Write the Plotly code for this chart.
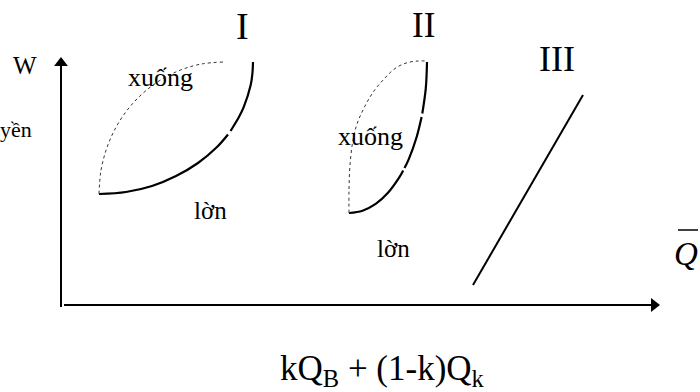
import plotly.graph_objects as go

# Coordinates: origin at the axes corner, x to the right, y upwards (diagram units)
# Curve I: lower solid branch (two pieces, small break) and upper dotted branch
curve1_solid_a_x = [38, 65, 91, 115, 137, 156, 167]
curve1_solid_a_y = [111, 113, 119, 129, 142, 158, 170.5]
curve1_solid_b_x = [169.5, 171.4, 177.5, 182.7, 189.7, 191.4, 192]
curve1_solid_b_y = [174, 177, 187.2, 197.9, 220, 231.5, 243]
curve1_dot_x = [38, 39.9, 45.5, 54.6, 67, 82.3, 100, 119.6, 140.4, 162]
curve1_dot_y = [111, 134, 156.1, 177, 195.9, 212.1, 225.3, 235, 241, 243]

# Curve II: solid branch (three pieces) and dotted branch
curve2_solid_a_x = [288, 301.5, 314.7, 327, 338.1, 342.2]
curve2_solid_a_y = [92, 94.3, 101.1, 112.2, 127.3, 134.5]
curve2_solid_b_x = [343.5, 347.8, 355.5, 360.6]
curve2_solid_b_y = [137, 145.9, 167.5, 188]
curve2_solid_c_x = [361.3, 364.8, 366]
curve2_solid_c_y = [191.5, 216.8, 243]
curve2_dot_x = [288, 288, 289, 292, 296, 302, 309, 316, 324, 332, 340, 349, 357, 365]
curve2_dot_y = [92, 115, 140, 165, 181, 195, 208, 218, 227, 235, 240, 243, 244, 244]

# Line III
line3_x = [412, 522]
line3_y = [20, 210]

# Axes: lines and arrow tips
yaxis_x, yaxis_y = [0, 0], [-2, 240]
xaxis_x, xaxis_y = [3, 592], [0, 0]
ytip = (0, 242)
xtip = (593, 0)

# Labels: (text, x, y, size, xanchor)
labels = [
    ("I", 181, 279, 38, "center"),
    ("II", 362, 280, 35, "center"),
    ("III", 496, 246, 36, "center"),
    ("W", -36, 240, 25, "center"),
    ("yền", -27, 176, 22, "right"),
    ("xuống", 99, 228, 26, "center"),
    ("xuống", 309, 169, 26, "center"),
    ("lờn", 149, 95, 25, "center"),
    ("lờn", 332, 57, 25, "center"),
]
q_label = ("<i>Q</i>", 625, 51, 33)
q_bar_x = [617, 637]
q_bar_y = 75
formula = ("kQ<sub>B</sub> + (1-k)Q<sub>k</sub>", 321, -65, 35)

FONT = "Liberation Serif, Times New Roman, serif"

fig = go.Figure()

def add_line(xs, ys, width=2.2, dash="solid", color="black", shape="spline"):
    fig.add_trace(go.Scatter(x=xs, y=ys, mode="lines",
                             line=dict(color=color, width=width, dash=dash, shape=shape),
                             hoverinfo="skip", showlegend=False))

add_line(curve1_solid_a_x, curve1_solid_a_y)
add_line(curve1_solid_b_x, curve1_solid_b_y)
add_line(curve1_dot_x, curve1_dot_y, width=1, dash="dot", color="#333333")
add_line(curve2_solid_a_x, curve2_solid_a_y)
add_line(curve2_solid_b_x, curve2_solid_b_y)
add_line(curve2_solid_c_x, curve2_solid_c_y)
add_line(curve2_dot_x, curve2_dot_y, width=1, dash="dot", color="#333333")
add_line(line3_x, line3_y, width=2, shape="linear")

# axes
add_line(yaxis_x, yaxis_y, width=2, shape="linear")
add_line(xaxis_x, xaxis_y, width=2, shape="linear")
fig.add_trace(go.Scatter(x=[ytip[0]], y=[ytip[1]], mode="markers",
                         marker=dict(symbol="triangle-up", size=12, color="black"),
                         hoverinfo="skip", showlegend=False))
fig.add_trace(go.Scatter(x=[xtip[0]], y=[xtip[1]], mode="markers",
                         marker=dict(symbol="triangle-right", size=12, color="black"),
                         hoverinfo="skip", showlegend=False))

for text, x, y, size, xa in labels:
    fig.add_annotation(x=x, y=y, text=text, showarrow=False, xanchor=xa, yanchor="middle",
                       font=dict(family=FONT, size=size, color="black"))

fig.add_annotation(x=q_label[1], y=q_label[2], text=q_label[0], showarrow=False,
                   font=dict(family=FONT, size=q_label[3], color="black"))
fig.add_shape(type="line", x0=q_bar_x[0], x1=q_bar_x[1], y0=q_bar_y, y1=q_bar_y,
              xref="x", yref="y", line=dict(color="black", width=1.5))
fig.add_annotation(x=formula[1], y=formula[2], text=formula[0], showarrow=False,
                   font=dict(family=FONT, size=formula[3], color="black"))

fig.update_layout(
    width=700, height=392,
    margin=dict(l=0, r=0, t=0, b=0),
    paper_bgcolor="white", plot_bgcolor="white",
    xaxis=dict(range=[-61, 639], visible=False, fixedrange=True),
    yaxis=dict(range=[-87, 305], visible=False, fixedrange=True),
)

fig.write_html("out.html", config={"displayModeBar": False},
               post_script="document.body.style.margin='0px';")
